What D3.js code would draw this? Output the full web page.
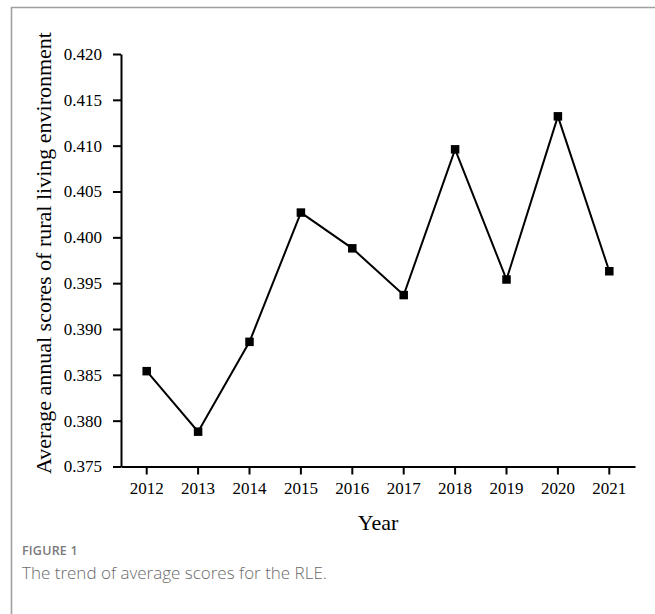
<!DOCTYPE html>
<html>
<head>
<meta charset="utf-8">
<script src="https://cdn.jsdelivr.net/npm/d3@7"></script>
<style>
  html, body { margin: 0; padding: 0; background: #fff; }
  svg { display: block; }
</style>
</head>
<body>
<svg id="chart" width="655" height="614"></svg>
<script>
// Average annual RLE scores by year
const years = ["2012", "2013", "2014", "2015", "2016", "2017", "2018", "2019", "2020", "2021"];
const scores = [0.3854, 0.3788, 0.3886, 0.4027, 0.3988, 0.3937, 0.4096, 0.3954, 0.4132, 0.3963];
const yTicks = [0.375, 0.380, 0.385, 0.390, 0.395, 0.400, 0.405, 0.410, 0.415, 0.420];

const svg = d3.select("#chart");
const serif = "'Liberation Serif', 'Times New Roman', serif";
const sans = "'Open Sans', 'Noto Sans', sans-serif";

// Figure panel frame (open to the right and bottom edges)
svg.append("path")
  .attr("d", "M11.5,700 L11.5,7.5 L700,7.5")
  .attr("fill", "none")
  .attr("stroke", "#a0a0a0")
  .attr("stroke-width", 1.6);

const plotLeft = 121, plotRight = 635, plotTop = 54, plotBottom = 466.5;

const x = d3.scaleBand().domain(years).range([plotLeft, plotRight]);
const y = d3.scaleLinear().domain([0.375, 0.420]).range([plotBottom, plotTop]);

// Y axis
const yAxis = svg.append("g")
  .attr("transform", `translate(${plotLeft},0)`)
  .call(d3.axisLeft(y).tickValues(yTicks).tickFormat(d3.format(".3f")).tickSize(8).tickSizeOuter(0).tickPadding(11));
yAxis.select(".domain").attr("stroke", "#000").attr("stroke-width", 2);
yAxis.selectAll(".tick line").attr("stroke", "#000").attr("stroke-width", 2);
yAxis.selectAll(".tick text")
  .attr("font-family", serif).attr("font-size", 17).attr("fill", "#000");

// X axis
const xAxis = svg.append("g")
  .attr("transform", `translate(0,${plotBottom})`)
  .call(d3.axisBottom(x).tickSize(8).tickSizeOuter(0).tickPadding(7));
xAxis.select(".domain").attr("stroke", "#000").attr("stroke-width", 2);
xAxis.selectAll(".tick line").attr("stroke", "#000").attr("stroke-width", 2);
xAxis.selectAll(".tick text")
  .attr("font-family", serif).attr("font-size", 17).attr("fill", "#000");

// Axis titles
svg.append("text")
  .attr("x", 378).attr("y", 530)
  .attr("text-anchor", "middle")
  .attr("font-family", serif).attr("font-size", 22).attr("fill", "#000")
  .text("Year");

svg.append("text")
  .attr("transform", "translate(51,253) rotate(-90)")
  .attr("text-anchor", "middle")
  .attr("font-family", serif).attr("font-size", 22).attr("fill", "#000")
  .text("Average annual scores of rural living environment");

// Line and square markers
const cx = d => x(d) + x.bandwidth() / 2;
const pts = years.map((yr, i) => [cx(yr), y(scores[i])]);

svg.append("path")
  .datum(pts)
  .attr("d", d3.line())
  .attr("fill", "none")
  .attr("stroke", "#000")
  .attr("stroke-width", 2);

const ms = 8.5;
svg.append("g").selectAll("rect")
  .data(years)
  .join("rect")
  .attr("x", (d) => cx(d) - ms / 2)
  .attr("y", (d, i) => y(scores[i]) - ms / 2)
  .attr("width", ms).attr("height", ms)
  .attr("fill", "#000");

// Caption
svg.append("text")
  .attr("x", 22).attr("y", 555)
  .attr("font-family", sans).attr("font-size", 12.5).attr("font-weight", 600)
  .attr("letter-spacing", 0.2)
  .attr("fill", "#7a7a7a")
  .text("FIGURE 1");

svg.append("text")
  .attr("x", 22).attr("y", 579)
  .attr("font-family", sans).attr("font-size", 17).attr("font-weight", 300)
  .attr("fill", "#6a6a6a")
  .text("The trend of average scores for the RLE.");
</script>
</body>
</html>
